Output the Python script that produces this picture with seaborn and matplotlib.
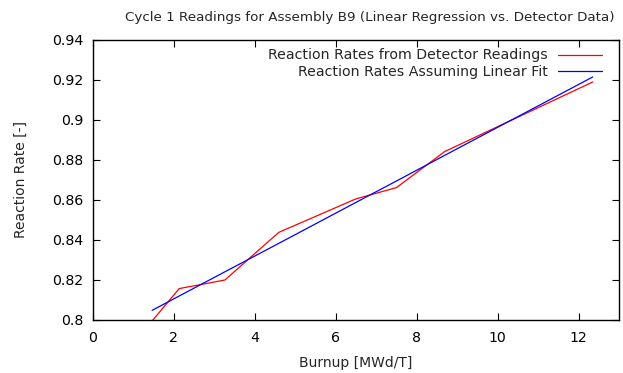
"""Cycle 1 detector readings vs. linear regression for assembly B9."""

import matplotlib

matplotlib.use("Agg")

import matplotlib.pyplot as plt
import pandas as pd
import seaborn as sns

BURNUP = [1.46, 2.13, 3.26, 4.59, 6.49, 7.50, 8.69, 12.35]
DETECTOR_RATE = [0.7995, 0.8157, 0.8200, 0.8438, 0.8605, 0.8662, 0.8842, 0.9190]
LINEAR_FIT_RATE = [0.8048, 0.8120, 0.8241, 0.8383, 0.8587, 0.8695, 0.8823, 0.9215]

SERIES_NAMES = [
    "Reaction Rates from Detector Readings",
    "Reaction Rates Assuming Linear Fit",
]
X_TICKS = [0, 2, 4, 6, 8, 10, 12]
Y_TICKS = [0.80, 0.82, 0.84, 0.86, 0.88, 0.90, 0.92, 0.94]
Y_TICK_LABELS = ["0.8", "0.82", "0.84", "0.86", "0.88", "0.9", "0.92", "0.94"]


def build_frame() -> pd.DataFrame:
    """Stack both series in long form for seaborn."""
    detector = pd.DataFrame(
        {"burnup": BURNUP, "rate": DETECTOR_RATE, "series": SERIES_NAMES[0]}
    )
    fit = pd.DataFrame(
        {"burnup": BURNUP, "rate": LINEAR_FIT_RATE, "series": SERIES_NAMES[1]}
    )
    return pd.concat([detector, fit], ignore_index=True)


def main() -> None:
    sns.set_style("ticks")
    plt.rcParams["font.family"] = ["DejaVu Sans"]
    plt.rcParams["font.size"] = 10

    data = build_frame()
    fig, ax = plt.subplots(figsize=(6.23, 3.73), dpi=100)
    fig.subplots_adjust(left=0.1493, right=0.9936, bottom=0.1421, top=0.8928)

    sns.lineplot(
        data=data,
        x="burnup",
        y="rate",
        hue="series",
        palette={SERIES_NAMES[0]: "#ff0000", SERIES_NAMES[1]: "#0000ff"},
        linewidth=0.9,
        ax=ax,
    )

    ax.set_xlim(0, 13)
    ax.set_ylim(0.80, 0.94)
    ax.set_xticks(X_TICKS)
    ax.set_yticks(Y_TICKS)
    ax.set_yticklabels(Y_TICK_LABELS)
    ax.tick_params(
        direction="in", top=True, right=True, length=5, width=0.8,
        labelsize=10.2, colors="black", pad=7,
    )
    ax.tick_params(axis="x", pad=8)
    for spine in ax.spines.values():
        spine.set_linewidth(1.0)
        spine.set_color("black")

    ax.set_xlabel("Burnup [MWd/T]", fontsize=10, labelpad=7.5)
    ax.set_ylabel("Reaction Rate [-]", fontsize=10, labelpad=17)
    ax.set_title(
        "Cycle 1 Readings for Assembly B9 (Linear Regression vs. Detector Data)",
        fontsize=9.7, pad=14, x=0.5257,
    )

    ax.legend(
        loc="upper right",
        frameon=False,
        markerfirst=False,
        fontsize=10.2,
        handlelength=3.1,
        borderaxespad=0.2,
        labelspacing=0.15,
        handletextpad=0.7,
        bbox_to_anchor=(0.983, 1.0),
    )
    for text in ax.get_legend().get_texts():
        text.set_horizontalalignment("right")

    fig.savefig("out.png", dpi=100)
    plt.close(fig)


if __name__ == "__main__":
    main()
